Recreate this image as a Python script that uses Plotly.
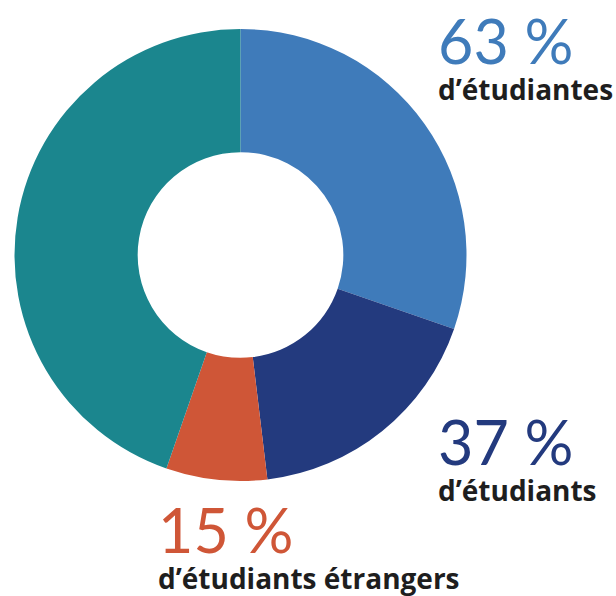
import plotly.graph_objects as go

# Headline percentages shown next to the ring
pct_women = 63
pct_men = 37
pct_foreign = 15
# share of the ring taken by all students (women + men)
students_ring_share = 48.1

segments = ["Étudiantes", "Étudiants", "Étudiants étrangers", "Autres"]
shares = [
    students_ring_share * pct_women / 100,
    students_ring_share * pct_men / 100,
    students_ring_share * pct_foreign / 100,
]
shares.append(100 - sum(shares))
colors = ["#3f7bba", "#233a7e", "#cf5637", "#1b868e"]

callout_values = [pct_women, pct_men, pct_foreign]
captions = ["d\u2019étudiantes", "d\u2019étudiants", "d\u2019étudiants étrangers"]
callout_colors = ["#3f7bba", "#233a7e", "#cf5637"]

W, H = 616, 596

fig = go.Figure(
    go.Pie(
        labels=segments,
        values=shares,
        marker=dict(colors=colors, line=dict(width=0)),
        hole=0.455,
        sort=False,
        direction="clockwise",
        rotation=0,
        textinfo="none",
        hoverinfo="label+percent",
        domain=dict(x=[14.5 / W, 466.5 / W], y=[1 - 481 / H, 1 - 29 / H]),
    )
)

# callout anchor: left edge and bottom of each two-line block, in pixels
callout_pos = [(436, 110), (436, 511), (156, 599)]

annotations = []
for val, cap, col, (px, py) in zip(callout_values, captions, callout_colors, callout_pos):
    text = (
        f'<span style="font-family:Lato;font-size:61px;font-weight:400;color:{col}">'
        f"{val} %</span><br>{cap}"
    )
    annotations.append(dict(
        text=text, x=px / W, y=1 - py / H, xref="paper", yref="paper",
        xanchor="left", yanchor="bottom", align="left", showarrow=False,
        font=dict(family="Open Sans", size=28, color="#1e1e1e", weight=700),
    ))

fig.update_layout(
    width=W, height=H,
    margin=dict(l=0, r=0, t=0, b=0),
    paper_bgcolor="white", plot_bgcolor="white",
    showlegend=False,
    annotations=annotations,
)

fig.write_html("out.html")
